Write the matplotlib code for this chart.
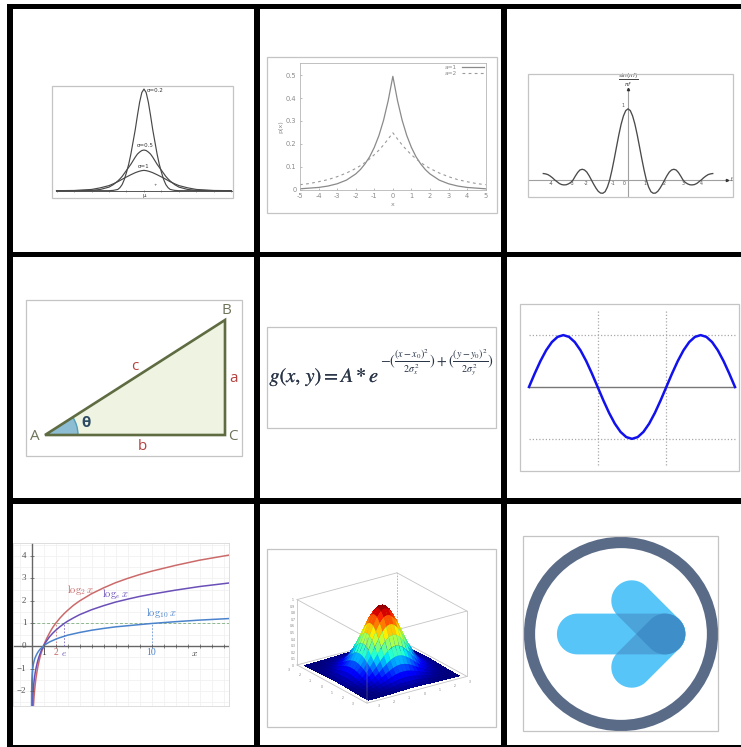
import numpy as np
import matplotlib
matplotlib.use("Agg")
import matplotlib.pyplot as plt
import matplotlib.patheffects as pe
from matplotlib.patches import Rectangle, Polygon, Wedge, Circle, PathPatch, Arc
from matplotlib.path import Path
from mpl_toolkits.mplot3d import proj3d

plt.rcParams["axes.unicode_minus"] = False
W, H = 741, 747
DPI = 100

# ---------- data ----------
bell_x = [-5, -4, -3, -2.5, -2, -1.75, -1.5, -1.375, -1.25, -1.125, -1, -.875, -.75, -.625, -.5, -.375, -.25, -.125, 0,
          .125, .25, .375, .5, .625, .75, .875, 1, 1.125, 1.25, 1.375, 1.5, 1.75, 2, 2.5, 3, 4, 5]
bell_narrow = [0, 0, 0, 0, 0, .003, .012, .03, .06, .11, .18, .26, .36, .48, .60, .74, .87, .965, 1.0,
               .965, .87, .74, .60, .48, .36, .26, .18, .11, .06, .03, .012, .003, 0, 0, 0, 0, 0]
bell_mid = [0, 0, .003, .012, .035, .06, .095, .116, .14, .17, .20, .23, .26, .295, .33, .36, .38, .395, .40,
            .395, .38, .36, .33, .295, .26, .23, .20, .17, .14, .116, .095, .06, .035, .012, .003, 0, 0]
bell_wide = [0, .002, .012, .028, .05, .068, .088, .10, .112, .124, .135, .146, .157, .167, .177, .185, .192, .197, .20,
             .197, .192, .185, .177, .167, .157, .146, .135, .124, .112, .10, .088, .068, .05, .028, .012, .002, 0]
bell_ticks = [-5, -4, -3, -2, -1, 0, 1, 2, 3, 4, 5]

lap_x = [-5, -4.5, -4, -3.5, -3, -2.5, -2, -1.75, -1.5, -1.25, -1, -.75, -.5, -.25, 0, .25, .5, .75, 1, 1.25, 1.5, 1.75, 2, 2.5, 3, 3.5, 4, 4.5, 5]
lap_a1 = [.003, .006, .009, .015, .025, .041, .068, .087, .112, .143, .184, .236, .303, .389, .495, .389, .303, .236, .184, .143, .112, .087, .068, .041, .025, .015, .009, .006, .003]
lap_a2 = [.021, .026, .034, .043, .056, .072, .092, .104, .118, .134, .152, .172, .195, .221, .248, .221, .195, .172, .152, .134, .118, .104, .092, .072, .056, .043, .034, .026, .021]

sinc_half_x = [0, .125, .25, .375, .5, .625, .75, .875, 1, 1.125, 1.25, 1.375, 1.5, 1.625, 1.75, 1.875, 2, 2.125, 2.25, 2.375, 2.5,
               2.625, 2.75, 2.875, 3, 3.125, 3.25, 3.375, 3.5, 3.625, 3.75, 3.875, 4, 4.125, 4.25, 4.375, 4.5, 4.625]
sinc_half_y = [1, .975, .90, .785, .637, .47, .30, .14, 0, -.10, -.165, -.187, -.185, -.16, -.115, -.06, 0, .06, .11, .14, .15,
               .14, .105, .055, 0, -.035, -.055, -.068, -.07, -.065, -.05, -.025, 0, .03, .055, .075, .085, .09]
sinc_labels = ["-4", "-3", "-2", "-1", "0", "1", "2", "3", "4"]
sinc_label_x = [-4.17, -3.05, -2.26, -.83, -.2, .9, 2.0, 3.0, 3.99]

tri_A, tri_B, tri_C = (45, 435), (225, 320), (225, 435)

sine_x = list(range(0, 37))
sine_y = [0, .259, .5, .707, .866, .966, 1, .966, .866, .707, .5, .259, 0, -.259, -.5, -.707, -.866, -.966, -1,
          -.966, -.866, -.707, -.5, -.259, 0, .259, .5, .707, .866, .966, 1, .966, .866, .707, .5, .259, 0]

log_x = [.002, .006, .01, .02, .03, .045, .06, .08, .1, .125, .15, .2, .25, .3, .35, .4, .5, .6, .7, .8, .9, 1, 1.1, 1.25, 1.5, 1.75, 2,
         2.35, 2.72, 3, 3.5, 4, 5, 6, 7, 8, 9, 10, 12, 14, 16.5]
log_2 = [-8.97, -7.38, -6.64, -5.64, -5.06, -4.47, -4.06, -3.64, -3.32, -3, -2.74, -2.32, -2, -1.74, -1.51, -1.32, -1, -.74, -.51, -.32, -.15, 0, .14, .32, .58, .81, 1,
         1.23, 1.44, 1.58, 1.81, 2, 2.32, 2.58, 2.81, 3, 3.17, 3.32, 3.58, 3.81, 4.04]
log_e = [-6.21, -5.12, -4.61, -3.91, -3.51, -3.10, -2.81, -2.53, -2.30, -2.08, -1.90, -1.61, -1.39, -1.20, -1.05, -.92, -.69, -.51, -.36, -.22, -.11, 0, .10, .22, .41, .56, .69,
         .85, 1, 1.10, 1.25, 1.39, 1.61, 1.79, 1.95, 2.08, 2.20, 2.30, 2.48, 2.64, 2.80]
log_10 = [-2.70, -2.22, -2, -1.70, -1.52, -1.35, -1.22, -1.10, -1, -.90, -.82, -.70, -.60, -.52, -.46, -.40, -.30, -.22, -.15, -.10, -.05, 0, .04, .10, .18, .24, .30,
          .37, .43, .48, .54, .60, .70, .78, .85, .90, .95, 1, 1.08, 1.15, 1.22]

surf_half_axis = [0, .125, .25, .375, .5, .625, .75, .875, 1, 1.125, 1.25, 1.375, 1.5, 1.625, 1.75, 1.875, 2, 2.125, 2.25, 2.375, 2.5, 2.625, 2.75, 2.875, 3]
surf_half_profile = [1, .993, .972, .938, .893, .837, .774, .706, .635, .563, .491, .424, .360, .301, .249, .203, .163, .128, .100, .077, .058, .044, .032, .023, .017]
surf_ticks = [-3, -2, -1, 0, 1, 2, 3]
surf_zticks = [0, .1, .2, .3, .4, .5, .6, .7, .8, .9, 1]

# ---------- helpers ----------
fig = plt.figure(figsize=(W / DPI, H / DPI), dpi=DPI, facecolor="white")


def px_axes(l, t, r, b, **kw):
    return fig.add_axes([l / W, 1 - b / H, (r - l) / W, (b - t) / H], **kw)


def frame(l, t, r, b, color="#c4c4c4", lw=0.9):
    fig.add_artist(Rectangle((l / W, 1 - b / H), (r - l) / W, (b - t) / H, transform=fig.transFigure,
                             fill=False, ec=color, lw=lw, zorder=6))


GRID = [((7, 4), (13.3, 747)), ((254.3, 4), (260.3, 747)), ((501, 4), (507.3, 747)),
        ((7, 4), (741, 9.3)), ((7, 251.7), (741, 257)), ((7, 498.3), (741, 504)), ((7, 745), (741, 747))]
for (x0, y0), (x1, y1) in GRID:
    fig.add_artist(Rectangle((x0 / W, 1 - y1 / H), (x1 - x0) / W, (y1 - y0) / H, transform=fig.transFigure,
                             fc="black", ec="none", zorder=10))

# ---------- panel 1: bell curves ----------
frame(52, 86, 233, 198)
ax = px_axes(52, 86, 233, 198)
ax.set_xlim(-5.26, 5.09)
ax.set_ylim(-.072, 1.03)
ax.axis("off")
ax.plot([-5.05, 5.09], [0, 0], color="#555555", lw=.7)
for curve in (bell_narrow, bell_mid, bell_wide):
    ax.plot(bell_x, curve, color="#484848", lw=.85)
ax.plot(bell_ticks, [0] * len(bell_ticks), ls="none", marker="|", ms=1.6, mew=.4, color="#555555")
ax.text(.17, .985, "σ=0.2", fontsize=4, va="center", color="#333333")
ax.text(.05, .445, "σ=0.5", fontsize=4, va="center", ha="center", color="#333333")
ax.text(0, .235, "σ=1", fontsize=4, va="center", ha="center", color="#333333")
ax.text(0, -.05, "μ", fontsize=4, va="center", ha="center", color="#333333")
ax.text(.65, .055, "+", fontsize=3, va="center", ha="center", color="#333333")

# ---------- panel 2: Laplace ----------
frame(267, 57, 496.5, 213)
ax = px_axes(300, 63.3, 485.7, 189.5)
ax.set_xlim(-5, 5)
ax.set_ylim(0, .552)
ax.plot(lap_x, lap_a1, color="#8a8a8a", lw=.9, label="a=1")
ax.plot(lap_x, lap_a2, color="#9a9a9a", lw=.8, ls=(0, (2.5, 3)), label="a=2")
ax.set_xticks(range(-5, 6))
ax.set_yticks([0, .1, .2, .3, .4, .5], ["0", "0.1", "0.2", "0.3", "0.4", "0.5"])
ax.tick_params(labelsize=4.8, colors="#8a8a8a", length=1.5, width=.4, pad=2.5, direction="in")
for s in ax.spines.values():
    s.set_color("#b5b5b5")
    s.set_linewidth(.6)
ax.set_xlabel("x", fontsize=4.6, color="#8a8a8a", labelpad=2)
ax.set_ylabel("p(x)", fontsize=4.6, color="#8a8a8a", labelpad=1.5)
ax.legend(loc="upper right", frameon=False, fontsize=4.2, labelcolor="#8a8a8a", markerfirst=False,
          handlelength=3.8, labelspacing=.1, borderaxespad=.1, borderpad=.2, handletextpad=.8)

# ---------- panel 3: sinc ----------
frame(528, 74, 733, 197)
ax = px_axes(528, 74, 733, 197)
ax.set_xlim(-5.46, 5.73)
ax.set_ylim(-.24, 1.49)
ax.axis("off")
ax.axhline(0, color="#a0a0a0", lw=.8)
ax.plot([0, 0], [-.24, 1.29], color="#a0a0a0", lw=.8)
ax.plot([-v for v in sinc_half_x[:0:-1]] + sinc_half_x, sinc_half_y[:0:-1] + sinc_half_y, color="#4a4a4a", lw=.95)
ax.plot([0], [1.28], ls="none", marker="^", ms=1.6, color="#333333")
ax.plot([5.4], [0], ls="none", marker=">", ms=1.6, color="#333333")
for t, s in zip(sinc_label_x, sinc_labels):
    ax.text(t, -.05, s, fontsize=3.4, ha="center", va="center", color="#555555")
ax.text(-.25, 1.05, "1", fontsize=3.4, ha="center", va="center", color="#555555")
ax.text(5.65, 0, "f", fontsize=3.4, ha="center", va="center", color="#555555")
ax.text(0, 1.40, r"$\frac{\sin(\pi f)}{\pi f}$", fontsize=6, ha="center", va="center", color="#444444")

# ---------- panel 4: triangle ----------
frame(26, 300, 242, 456)
ax = px_axes(26, 300, 242, 456)
ax.set_xlim(26, 242)
ax.set_ylim(456, 300)
ax.axis("off")
ax.add_patch(Polygon([tri_A, tri_B, tri_C], closed=True, fc="#eef3e2", ec="none"))
ax.add_patch(Wedge(tri_A, 33, -32.6, 0, fc="#8dbdd3", ec="none"))
ax.add_patch(Arc(tri_A, 66, 66, theta1=-32.6, theta2=0, color="#4f9fb8", lw=1))
ax.add_patch(Polygon([tri_A, tri_B, tri_C], closed=True, fill=False, ec="#5f6c42", lw=1.9, joinstyle="miter"))
for s, x, y, c in [("A", 35, 436, "#6d7459"), ("B", 226, 310, "#6d7459"), ("C", 233, 437, "#6d7459"),
                   ("a", 234, 378, "#b5423f"), ("b", 142, 447, "#b5423f"), ("c", 134.5, 367, "#b5423f")]:
    ax.text(x, y, s, fontsize=11, ha="center", va="center", color=c, family="Open Sans")
ax.text(86, 423, "θ", fontsize=11, ha="center", va="center", color="#2c4a63", family="Open Sans", fontweight="bold")

# ---------- panel 5: formula ----------
frame(267, 327, 495.5, 428)
bolder = [pe.withStroke(linewidth=.12, foreground="#2a3547")]
fig.text(269.5 / W, 1 - 382 / H, r"$g(x,\,y)=A*e$", fontsize=14.5, math_fontfamily="stix",
         color="#2a3547", ha="left", va="baseline", path_effects=bolder)
fig.text(380.5 / W, 1 - 363 / H,
         r"$-(\frac{(x-x_0)^2}{2\sigma_x^2})+(\frac{(y-y_0)^2}{2\sigma_y^2})$",
         fontsize=10.3, math_fontfamily="stix", color="#2a3547", ha="left", va="center")

# ---------- panel 6: sine ----------
frame(520, 304, 739, 471)
ax = px_axes(520, 304, 739, 471)
ax.set_xlim(-1.57, 36.7)
ax.set_ylim(-1.62, 1.6)
ax.axis("off")
for v in (12, 24):
    ax.plot([v, v], [-1.5, 1.5], color="#a8a8a8", lw=.9, ls=(0, (1, 1.6)))
for v in (-1, 1):
    ax.plot([0, 36], [v, v], color="#a8a8a8", lw=.9, ls=(0, (1, 1.6)))
ax.plot([0, 36], [0, 0], color="#777777", lw=1)
ax.plot(sine_x, sine_y, color="#1111ee", lw=1.8)

# ---------- panel 7: logarithms ----------
ax = px_axes(13.3, 543.3, 229.5, 705.7)
ax.set_xlim(-1.52, 16.5)
ax.set_ylim(-2.65, 4.56)
ax.set_xticks(np.arange(-1, 17))
ax.set_yticks(np.arange(-2.5, 4.6, .5))
ax.grid(True, color="#efefef", lw=.5)
ax.set_axisbelow(True)
ax.tick_params(left=False, bottom=False, labelleft=False, labelbottom=False)
for s in ax.spines.values():
    s.set_color("#d8d8d8")
    s.set_linewidth(.6)
ax.axhline(0, color="#666666", lw=1)
ax.axvline(0, color="#666666", lw=1)
ax.plot([0, 16.5], [1, 1], color="#8fb98f", lw=.7, ls=(0, (3, 2)))
ax.plot([2, 2], [0, 1], color="#cc7777", lw=.6, ls=(0, (2, 2)))
ax.plot([2.72, 2.72], [0, 1], color="#8068c0", lw=.6, ls=(0, (2, 2)))
ax.plot([10, 10], [0, 1], color="#6f98d6", lw=.6, ls=(0, (2, 2)))
ax.plot(log_x, log_2, color="#cc6a6a", lw=1.1)
ax.plot(log_x, log_e, color="#6a4fb8", lw=1.1)
ax.plot(log_x, log_10, color="#4a82cc", lw=1.1)
ax.plot(range(1, 17), [0] * 16, ls="none", marker="|", ms=2.6, mew=.5, color="#555555")
for v in (-2, -1, 1, 2, 3, 4):
    ax.plot([0], [v], ls="none", marker="_", ms=2.6, mew=.5, color="#555555")
for v, s in zip((-2, -1, 0, 1, 2, 3, 4), ("−2", "−1", "0", "1", "2", "3", "4")):
    ax.text(-.42, v, s, fontsize=6.5, ha="right", va="center", family="Liberation Serif", color="#555555")
serif = dict(ha="center", va="center", math_fontfamily="cm")
ax.text(1, -.29, "1", fontsize=7, ha="center", va="center", family="Liberation Serif", color="#444444")
ax.text(2, -.29, "2", fontsize=7, ha="center", va="center", family="Liberation Serif", color="#cc6a6a")
ax.text(2.72, -.29, r"$e$", fontsize=7, color="#6a4fb8", **serif)
ax.text(10, -.29, "10", fontsize=7, ha="center", va="center", family="Liberation Serif", color="#4a82cc")
ax.text(13.6, -.29, r"$x$", fontsize=7, color="#333333", **serif)
ax.text(4.05, 2.5, r"$\log_2 x$", fontsize=7.5, color="#cc6a6a", **serif)
ax.text(7.0, 2.33, r"$\log_e x$", fontsize=7.5, color="#6a4fb8", **serif)
ax.text(10.8, 1.45, r"$\log_{10} x$", fontsize=7.5, color="#4a82cc", **serif)

# ---------- panel 8: 3D surface ----------
frame(267, 549, 495.5, 727)
S = 200
ax = px_axes(279.3, 540.7, 279.3 + S, 540.7 + S, projection="3d", proj_type="ortho", facecolor="none")
ax.computed_zorder = False
surf_axis = [-v for v in surf_half_axis[:0:-1]] + surf_half_axis
surf_profile = surf_half_profile[:0:-1] + surf_half_profile
X, Y = np.meshgrid(surf_axis, surf_axis)
Z = np.outer(surf_profile, surf_profile)
ax.view_init(elev=22.5, azim=-35)
ax.set_box_aspect((1, 1, .58), zoom=.905)
lo, hi = -3.3, 3.3
ax.set_xlim(lo, hi)
ax.set_ylim(lo, hi)
ax.set_zlim(0, 1)
ax.set_axis_off()
c = "#c4c4c4"
ax.plot([lo, hi], [lo, lo], [1, 1], color=c, lw=.6, zorder=1)
ax.plot([lo, hi], [hi, hi], [1, 1], color=c, lw=.6, zorder=1)
ax.plot([lo, lo], [lo, hi], [1, 1], color=c, lw=.6, zorder=1)
ax.plot([hi, hi], [lo, hi], [1, 1], color=c, lw=.6, zorder=1)
ax.plot([lo, lo], [lo, lo], [0, 1], color=c, lw=.6, zorder=1)
ax.plot([hi, hi], [hi, hi], [0, 1], color=c, lw=.6, zorder=1)
ax.plot([lo, lo], [hi, hi], [0, 1], color="#aaaaaa", lw=.6, ls=(0, (2, 1.5)), zorder=1)
ax.plot([lo, hi, hi, lo], [lo, lo, hi, hi], [0, 0, 0, 0], color=c, lw=.6, zorder=1)
ax.plot([lo, lo], [hi, lo], [0, 0], color=c, lw=.6, zorder=1)
ax.plot_surface(X, Y, Z, cmap="jet", vmin=0, vmax=1, rstride=1, cstride=1, shade=False,
                antialiased=False, linewidth=0, zorder=2)
ax.plot_surface(X, Y, Z, cmap="jet", vmin=0, vmax=1, rstride=2, cstride=2, shade=False,
                edgecolor=(0, 0, 0, .10), linewidth=.15, zorder=2.5)
ax.plot([hi, hi], [lo, lo], [0, 1], color="#999999", lw=.3, zorder=3)
M = ax.get_proj()
tick_style = dict(fontsize=2.2, color="#777777", ha="center", va="center", zorder=4, transform=ax.transData)


def label3d(x, y, z, s):
    xs, ys, _ = proj3d.proj_transform(x, y, z, M)
    ax.text2D(xs, ys, s, **tick_style)


for t in surf_zticks:
    label3d(lo - .05, lo - .25, t, f"{t:g}")
for t in surf_ticks:
    label3d(t, lo - .7, 0, f"{t}")
    label3d(hi + .7, t, 0, f"{t}")

# ---------- panel 9: arrow icon ----------
frame(523, 536, 718, 731)
ax = px_axes(523, 536, 718, 731)
ax.set_xlim(523, 718)
ax.set_ylim(731, 536)
ax.axis("off")


def stadium(p0, p1, r, n=24):
    p0, p1 = np.array(p0, float), np.array(p1, float)
    ang = np.arctan2(*(p1 - p0)[::-1])
    t0 = np.linspace(ang + np.pi / 2, ang + 3 * np.pi / 2, n)
    t1 = np.linspace(ang - np.pi / 2, ang + np.pi / 2, n)
    pts = np.vstack([p0 + r * np.c_[np.cos(t0), np.sin(t0)], p1 + r * np.c_[np.cos(t1), np.sin(t1)]])
    return Path(np.vstack([pts, pts[0]]), closed=True)


r = 20.4
tip = (665, 634)
shaft = stadium((577.3, 634), tip, r)
upper = stadium((631.7, 600.7), tip, r)
lower = stadium((631.7, 667.3), tip, r)
ax.add_patch(Circle((621, 634), 91.5, fill=False, ec="#5a6b87", lw=8.1))
light, mid, dark = "#57c5f8", "#4ba3da", "#3e8fc9"
for p in (shaft, upper, lower):
    ax.add_patch(PathPatch(p, fc=light, ec="none"))
clip_s = PathPatch(shaft, fc="none", ec="none")
clip_u = PathPatch(upper, fc="none", ec="none")
ax.add_patch(clip_s)
ax.add_patch(clip_u)
for p in (upper, lower):
    a = ax.add_patch(PathPatch(p, fc=mid, ec="none"))
    a.set_clip_path(clip_s)
a = ax.add_patch(PathPatch(lower, fc=dark, ec="none"))
a.set_clip_path(clip_u)

fig.savefig("out.png", dpi=DPI, facecolor="white")
